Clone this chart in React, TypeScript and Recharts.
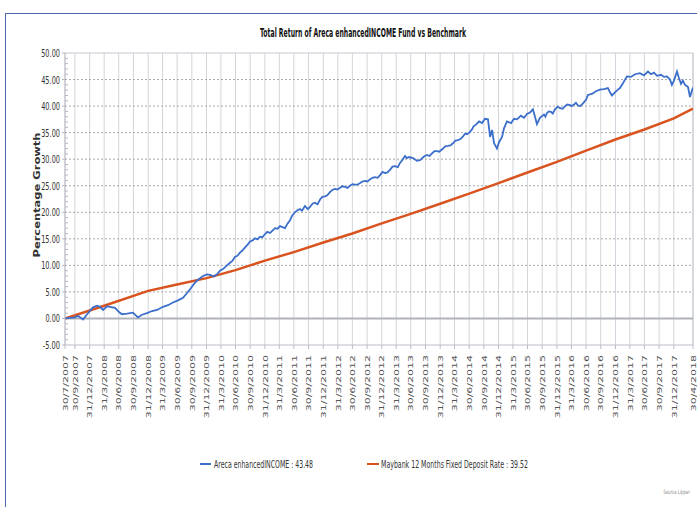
import React from 'react';
import { LineChart, Line, XAxis, YAxis, ReferenceLine, CartesianGrid } from 'recharts';

const titleText = 'Total Return of Areca enhancedINCOME Fund vs Benchmark';
const yAxisTitle = 'Percentage Growth';
const fundName = 'Areca enhancedINCOME';
const benchName = 'Maybank 12 Months Fixed Deposit Rate';
const fundLast = '43.48';
const benchLast = '39.52';
const sourceText = 'Source Lipper';

const xTickLabels = [
  '30/7/2007', '30/9/2007', '31/12/2007',
  '31/3/2008', '30/6/2008', '30/9/2008', '31/12/2008',
  '31/3/2009', '30/6/2009', '30/9/2009', '31/12/2009',
  '31/3/2010', '30/6/2010', '30/9/2010', '31/12/2010',
  '31/3/2011', '30/6/2011', '30/9/2011', '31/12/2011',
  '31/3/2012', '30/6/2012', '30/9/2012', '31/12/2012',
  '31/3/2013', '30/6/2013', '30/9/2013', '31/12/2013',
  '31/3/2014', '30/6/2014', '30/9/2014', '31/12/2014',
  '31/3/2015', '30/6/2015', '30/9/2015', '31/12/2015',
  '31/3/2016', '30/6/2016', '30/9/2016', '31/12/2016',
  '31/3/2017', '30/6/2017', '30/9/2017', '31/12/2017',
  '30/4/2018',
];

const yTicks = [-5, -4, -3, -2, -1, 0, 1, 2, 3, 4, 5, 6, 7, 8, 9, 10, 11, 12, 13, 14, 15, 16, 17, 18, 19, 20, 21, 22, 23, 24, 25, 26, 27, 28, 29, 30, 31, 32, 33, 34, 35, 36, 37, 38, 39, 40, 41, 42, 43, 44, 45, 46, 47, 48, 49, 50];
const yGridValues = [5, 10, 15, 20, 25, 30, 35, 40, 45];

// Areca enhancedINCOME: [date, cumulative % growth]
const fundPoints: [string, number][] = [
  ['2007-07-30', 0], ['2007-08-30', 0.1], ['2007-10-01', 0.2], ['2007-10-19', 0.5],
  ['2007-11-20', -0.2], ['2007-12-15', 0.8], ['2008-01-21', 2.1], ['2008-02-15', 2.4],
  ['2008-03-05', 2.2], ['2008-03-24', 1.6], ['2008-04-18', 2.3], ['2008-05-06', 2.2],
  ['2008-06-07', 2.0], ['2008-07-02', 1.2], ['2008-07-20', 0.8], ['2008-08-21', 0.9],
  ['2008-09-27', 1.1], ['2008-10-28', 0.2], ['2008-11-22', 0.7], ['2008-12-24', 1.0],
  ['2009-01-24', 1.4], ['2009-02-24', 1.6], ['2009-04-03', 2.2], ['2009-05-04', 2.5],
  ['2009-06-04', 3.0], ['2009-07-06', 3.4], ['2009-08-06', 3.9], ['2009-08-31', 4.8],
  ['2009-09-19', 5.5], ['2009-10-14', 6.5], ['2009-11-01', 7.1], ['2009-12-09', 8.0],
  ['2010-01-03', 8.3], ['2010-01-22', 8.2], ['2010-02-16', 7.9], ['2010-03-06', 8.3],
  ['2010-03-25', 9.0], ['2010-04-13', 9.3], ['2010-05-08', 10.0], ['2010-05-27', 10.5],
  ['2010-06-12', 10.9], ['2010-06-27', 11.6], ['2010-07-12', 11.8], ['2010-07-28', 12.4],
  ['2010-08-12', 12.8], ['2010-08-29', 13.4], ['2010-09-14', 13.9], ['2010-09-29', 14.5],
  ['2010-10-15', 14.7], ['2010-10-30', 15.1], ['2010-11-15', 14.9], ['2010-11-30', 15.4],
  ['2010-12-15', 15.3], ['2011-01-01', 15.9], ['2011-01-15', 16.3], ['2011-02-01', 16.1],
  ['2011-02-15', 16.5], ['2011-03-04', 17.0], ['2011-03-20', 16.9], ['2011-04-04', 17.4],
  ['2011-04-20', 17.2], ['2011-05-06', 17.0], ['2011-05-20', 17.8], ['2011-06-06', 18.5],
  ['2011-06-20', 19.4], ['2011-07-07', 20.0], ['2011-07-22', 20.4], ['2011-08-07', 20.6],
  ['2011-08-20', 20.3], ['2011-09-08', 21.2], ['2011-09-25', 20.6], ['2011-10-09', 21.0],
  ['2011-10-25', 21.6], ['2011-11-09', 21.8], ['2011-11-25', 21.5], ['2011-12-11', 22.4],
  ['2011-12-25', 22.9], ['2012-01-11', 23.0], ['2012-01-25', 23.2], ['2012-02-11', 23.8],
  ['2012-02-25', 24.2], ['2012-03-13', 24.4], ['2012-03-28', 24.3], ['2012-04-14', 24.6],
  ['2012-04-28', 24.9], ['2012-05-15', 24.8], ['2012-05-30', 24.6], ['2012-06-15', 25.0],
  ['2012-07-01', 25.3], ['2012-07-16', 25.2], ['2012-08-01', 25.2], ['2012-08-17', 25.5],
  ['2012-09-01', 25.8], ['2012-09-17', 25.9], ['2012-10-03', 25.8], ['2012-10-18', 26.2],
  ['2012-11-02', 26.5], ['2012-11-18', 26.6], ['2012-12-05', 26.5], ['2012-12-20', 27.0],
  ['2013-01-05', 27.6], ['2013-01-20', 27.4], ['2013-02-05', 27.5], ['2013-02-20', 28.0],
  ['2013-03-08', 28.6], ['2013-03-23', 28.7], ['2013-04-10', 28.5], ['2013-04-24', 29.3],
  ['2013-05-10', 29.9], ['2013-05-25', 30.6], ['2013-06-05', 30.2], ['2013-06-19', 30.4],
  ['2013-07-14', 30.2], ['2013-08-08', 29.7], ['2013-08-27', 29.8], ['2013-09-21', 30.5],
  ['2013-10-10', 30.8], ['2013-10-25', 30.6], ['2013-11-10', 31.1], ['2013-11-25', 31.5],
  ['2013-12-11', 31.5], ['2013-12-25', 31.4], ['2014-01-18', 32.0], ['2014-02-01', 32.4],
  ['2014-02-18', 32.5], ['2014-03-05', 32.6], ['2014-03-21', 33.0], ['2014-04-05', 33.5],
  ['2014-04-21', 33.6], ['2014-05-07', 33.8], ['2014-05-23', 34.3], ['2014-06-05', 34.8],
  ['2014-06-17', 34.7], ['2014-07-01', 35.0], ['2014-07-18', 35.6], ['2014-07-28', 36.2],
  ['2014-08-12', 36.5], ['2014-08-31', 37.1], ['2014-09-19', 36.8], ['2014-10-07', 37.6],
  ['2014-10-26', 37.5], ['2014-11-08', 34.2], ['2014-11-20', 35.5], ['2014-12-03', 33.0],
  ['2014-12-21', 32.0], ['2015-01-03', 33.2], ['2015-01-22', 34.2], ['2015-02-03', 35.8],
  ['2015-02-22', 37.1], ['2015-03-19', 36.8], ['2015-04-07', 37.6], ['2015-04-25', 37.5],
  ['2015-05-20', 38.2], ['2015-06-08', 37.8], ['2015-06-27', 38.5], ['2015-07-16', 38.8],
  ['2015-08-03', 39.4], ['2015-08-16', 38.0], ['2015-08-28', 36.6], ['2015-09-16', 37.8],
  ['2015-10-11', 38.4], ['2015-10-20', 38.0], ['2015-10-30', 38.7], ['2015-11-10', 39.0],
  ['2015-11-24', 38.9], ['2015-12-05', 38.6], ['2015-12-19', 39.4], ['2016-01-05', 39.9],
  ['2016-01-19', 39.6], ['2016-02-05', 39.5], ['2016-02-20', 40.0], ['2016-03-05', 40.3],
  ['2016-03-22', 40.2], ['2016-04-01', 40.0], ['2016-04-16', 40.3], ['2016-04-28', 40.6],
  ['2016-05-11', 40.1], ['2016-05-25', 40.0], ['2016-06-11', 40.5], ['2016-06-30', 41.2],
  ['2016-07-12', 42.1], ['2016-08-06', 42.3], ['2016-08-31', 42.8], ['2016-09-25', 43.1],
  ['2016-10-20', 43.2], ['2016-11-14', 43.4], ['2016-11-27', 42.6], ['2016-12-09', 42.0],
  ['2016-12-28', 42.6], ['2017-01-16', 43.1], ['2017-01-28', 43.4], ['2017-02-16', 44.3],
  ['2017-03-13', 45.6], ['2017-04-07', 45.5], ['2017-05-02', 46.0], ['2017-06-02', 46.2],
  ['2017-06-27', 45.8], ['2017-07-22', 46.5], ['2017-08-10', 46.0], ['2017-08-29', 46.3],
  ['2017-09-17', 45.7], ['2017-10-12', 45.9], ['2017-10-30', 45.5], ['2017-11-18', 45.6],
  ['2017-12-07', 45.0], ['2017-12-19', 44.0], ['2018-01-01', 44.8], ['2018-01-20', 46.5],
  ['2018-02-01', 45.3], ['2018-02-14', 44.2], ['2018-02-26', 44.8], ['2018-03-11', 44.0],
  ['2018-03-30', 43.6], ['2018-04-11', 41.7], ['2018-04-24', 43.0], ['2018-04-30', 43.48],
];

// Maybank 12 Months Fixed Deposit Rate: [date, cumulative % growth]
const benchPoints: [string, number][] = [
  ['2007-07-30', 0], ['2008-03-31', 2.4], ['2008-12-31', 5.2], ['2009-06-30', 6.4],
  ['2009-12-31', 7.6], ['2010-06-30', 9.1], ['2010-12-31', 10.9], ['2011-06-30', 12.5],
  ['2011-12-31', 14.3], ['2012-06-30', 16.0], ['2012-12-31', 17.9], ['2013-06-30', 19.7],
  ['2013-12-31', 21.6], ['2014-06-30', 23.5], ['2014-12-31', 25.5], ['2015-06-30', 27.5],
  ['2015-12-31', 29.5], ['2016-06-30', 31.6], ['2016-12-31', 33.7], ['2017-06-30', 35.6],
  ['2017-12-31', 37.7], ['2018-04-30', 39.52],
];

const parseDMY = (s: string) => {
  const [d, m, y] = s.split('/').map(Number);
  return Date.UTC(y, m - 1, d);
};
const parseISO = (s: string) => {
  const [y, m, d] = s.split('-').map(Number);
  return Date.UTC(y, m - 1, d);
};
const fmt = (t: number) => {
  const d = new Date(t);
  return `${d.getUTCDate()}/${d.getUTCMonth() + 1}/${d.getUTCFullYear()}`;
};

const xTicks = xTickLabels.map(parseDMY);
const fundData = fundPoints.map(([d, v]) => ({ t: parseISO(d), v }));
const benchData = benchPoints.map(([d, v]) => ({ t: parseISO(d), v }));
const xMin = xTicks[0];
const xMax = xTicks[xTicks.length - 1];

const BLUE = '#3b6fcb';
const ORANGE = '#d9531f';
const FONT = 'Verdana, "DejaVu Sans", sans-serif';

const XTick = (props: any) => {
  const { x, y, payload } = props;
  return (
    <g transform={`translate(${x},${y})`}>
      <text
        transform="rotate(-90) scale(1,0.68)"
        textAnchor="end"
        dy="0.36em"
        fontSize={11}
        fontFamily={FONT}
        fill="#555"
      >
        {fmt(payload.value)}
      </text>
    </g>
  );
};

const YTick = (props: any) => {
  const { x, y, payload } = props;
  const v = payload.value as number;
  const axisX = x + 5;
  if (v % 5 !== 0) {
    return <line x1={axisX} x2={axisX + 3} y1={y} y2={y} stroke="#b8b8b8" strokeWidth={1} />;
  }
  const label = v.toFixed(2);
  let w = 0;
  for (const ch of label) w += ch === '.' ? 2 : ch === '-' ? 2.6 : 4.2;
  return (
    <g>
      <line x1={axisX - 3} x2={axisX} y1={y} y2={y} stroke="#b8b8b8" strokeWidth={1} />
      <text
        x={x}
        y={y}
        dy="0.36em"
        textAnchor="end"
        fontSize={11}
        fontFamily={FONT}
        fill="#333"
        textLength={w}
        lengthAdjust="spacingAndGlyphs"
      >
        {label}
      </text>
    </g>
  );
};

export default function App() {
  return (
    <div style={{ position: 'absolute', left: 0, top: 0, width: 697, height: 507, background: '#fff', overflow: 'hidden' }}>
      <div
        style={{
          position: 'absolute',
          left: 5,
          top: 13,
          width: 720,
          height: 520,
          borderLeft: '1px solid #4a6ba6',
          borderTop: '1px solid #4a6ba6',
        }}
      />
      <div style={{ position: 'absolute', left: 0, top: 0 }}>
        <LineChart
          width={697}
          height={507}
          margin={{ top: 53, right: 4, bottom: 82, left: 5 }}
        >
          <CartesianGrid horizontal={false} vertical stroke="#d3d5dc" strokeWidth={1} />
          <XAxis
            type="number"
            dataKey="t"
            domain={[xMin, xMax]}
            ticks={xTicks}
            interval={0}
            allowDataOverflow
            height={80}
            tickSize={4}
            tickMargin={6}
            tick={<XTick />}
            axisLine={{ stroke: '#b8bcc6' }}
            tickLine={{ stroke: '#b8bcc6' }}
          />
          <YAxis
            type="number"
            domain={[-5, 50]}
            ticks={yTicks}
            interval={0}
            width={60}
            tickSize={4}
            tickMargin={1}
            tickLine={false}
            tick={<YTick />}
            axisLine={{ stroke: '#b8bcc6' }}
            allowDataOverflow
          />
          {yGridValues.map((v) => (
            <ReferenceLine key={v} y={v} stroke="#a8a8a8" strokeDasharray="2 2" strokeWidth={1} />
          ))}
          <ReferenceLine y={50} stroke="#c4c7cf" strokeWidth={1} />
          <ReferenceLine x={xMax} stroke="#c4c7cf" strokeWidth={1} />
          <ReferenceLine y={0} stroke="#b0b3ba" strokeWidth={2} />
          <Line
            data={benchData}
            dataKey="v"
            type="linear"
            stroke={ORANGE}
            strokeWidth={2.5}
            dot={false}
            isAnimationActive={false}
            name={benchName}
          />
          <Line
            data={fundData}
            dataKey="v"
            type="linear"
            stroke={BLUE}
            strokeWidth={1.8}
            dot={false}
            isAnimationActive={false}
            name={fundName}
          />
        </LineChart>
      </div>
      <svg
        width={697}
        height={507}
        style={{ position: 'absolute', left: 0, top: 0, pointerEvents: 'none' }}
      >
        <text
          x={260}
          y={37}
          fontSize={11.5}
          fontWeight="bold"
          fontFamily={FONT}
          fill="#111"
          textLength={206}
          lengthAdjust="spacingAndGlyphs"
        >
          {titleText}
        </text>
        <g transform="translate(37.5,195)">
          <text
            transform="rotate(-90) scale(1,0.72)"
            textAnchor="middle"
            dy="0.36em"
            fontSize={11}
            fontWeight="bold"
            fontFamily={FONT}
            fill="#333"
            textLength={125}
            lengthAdjust="spacingAndGlyphs"
          >
            {yAxisTitle}
          </text>
        </g>
        <line x1={200} x2={211} y1={464} y2={464} stroke={BLUE} strokeWidth={2} />
        <text
          x={214}
          y={467.5}
          fontSize={11}
          fontFamily={FONT}
          fill="#333"
          textLength={99}
          lengthAdjust="spacingAndGlyphs"
        >
          {`${fundName} : ${fundLast}`}
        </text>
        <line x1={367} x2={379} y1={464} y2={464} stroke={ORANGE} strokeWidth={2} />
        <text
          x={381}
          y={467.5}
          fontSize={11}
          fontFamily={FONT}
          fill="#333"
          textLength={147}
          lengthAdjust="spacingAndGlyphs"
        >
          {`${benchName} : ${benchLast}`}
        </text>
        <g transform="translate(690,494) scale(0.65,1)">
          <text
            x={0}
            y={0}
            textAnchor="end"
            fontSize={6}
            fontFamily={FONT}
            fill="#8a8a8a"
          >
            {sourceText}
          </text>
        </g>
      </svg>
    </div>
  );
}
